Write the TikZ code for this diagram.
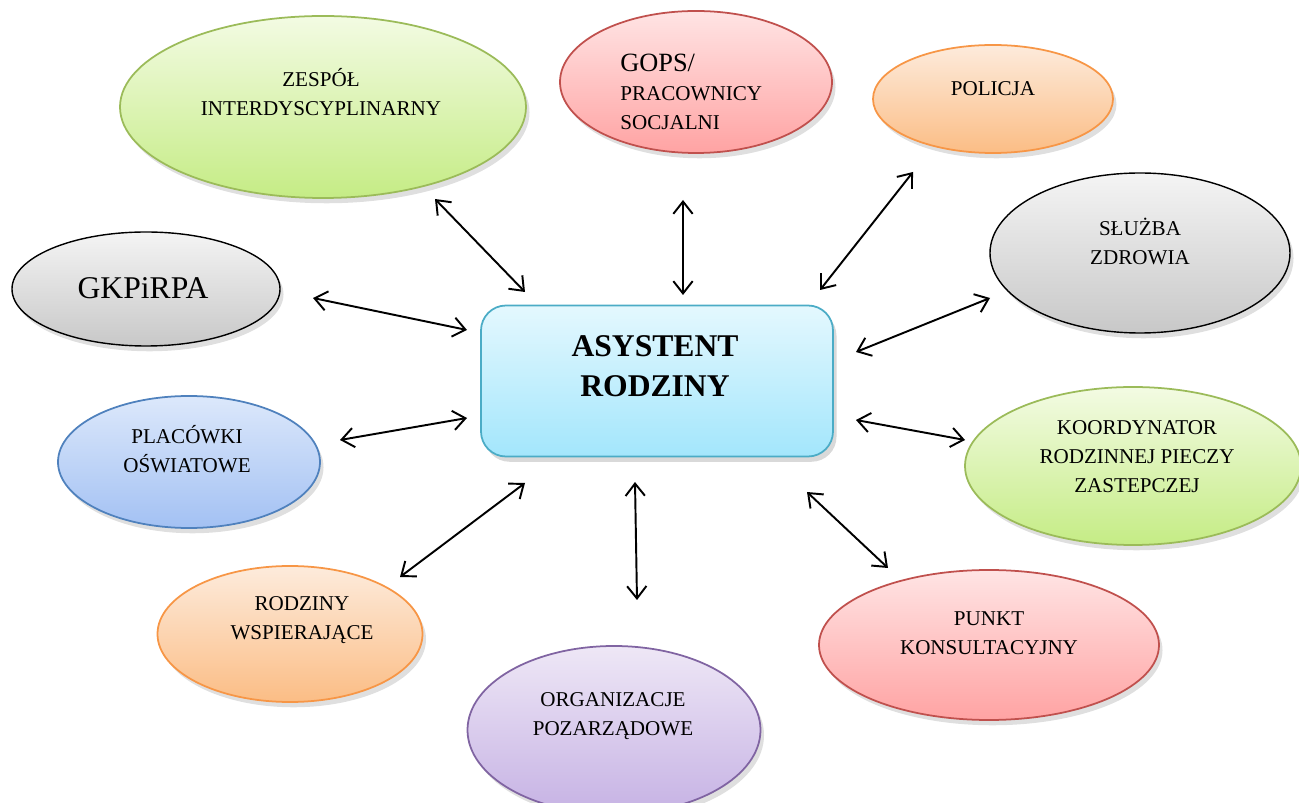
\documentclass[tikz,border=0pt]{standalone}
\usepackage{fontspec}
\setmainfont{Liberation Serif}
\usetikzlibrary{arrows.meta,shapes.geometric,shadows}

\definecolor{grnT}{HTML}{F3FBE3}
\definecolor{grnB}{HTML}{C5EC85}
\definecolor{grnD}{HTML}{9BBB59}
\definecolor{redT}{HTML}{FFE4E4}
\definecolor{redB}{HTML}{FFA3A3}
\definecolor{redD}{HTML}{C0504D}
\definecolor{orgT}{HTML}{FDEBDC}
\definecolor{orgB}{HTML}{FBBD85}
\definecolor{orgD}{HTML}{F79646}
\definecolor{gryT}{HTML}{F4F4F4}
\definecolor{gryB}{HTML}{C8C8C8}
\definecolor{bluT}{HTML}{DCE8FB}
\definecolor{bluB}{HTML}{A3C1F3}
\definecolor{bluD}{HTML}{4F81BD}
\definecolor{purT}{HTML}{EEE7F6}
\definecolor{purB}{HTML}{C6B2E4}
\definecolor{purD}{HTML}{8064A2}
\definecolor{cyaT}{HTML}{E4F8FE}
\definecolor{cyaB}{HTML}{A3E6FC}
\definecolor{cyaD}{HTML}{4BACC6}

\begin{document}
\begin{tikzpicture}[x=0.02cm, y=-0.02cm,
  sz/.style 2 args={minimum width=#1*0.02cm, minimum height=#2*0.02cm},
  ell/.style={ellipse, line width=1pt, inner sep=0pt,
    drop shadow={opacity=0.25, shadow xshift=2pt, shadow yshift=-3pt}},
  ellgrn/.style={ell, draw=grnD, top color=grnT, bottom color=grnB},
  ellred/.style={ell, draw=redD, top color=redT, bottom color=redB},
  ellorg/.style={ell, draw=orgD, top color=orgT, bottom color=orgB},
  ellgry/.style={ell, draw=black, line width=0.8pt, top color=gryT, bottom color=gryB},
  ellblu/.style={ell, draw=bluD, top color=bluT, bottom color=bluB},
  ellpur/.style={ell, draw=purD, top color=purT, bottom color=purB},
  lbl/.style={align=center, inner sep=0pt, font=\fontsize{12}{16.5}\selectfont},
  link/.style={{Straight Barb[length=7pt,width=11pt]}-{Straight Barb[length=7pt,width=11pt]}, line width=1.1pt}]

	\useasboundingbox (0,0) rectangle (1299,803);

	% centre
	\node[draw=cyaD, line width=1pt, rounded corners=0.5cm, top color=cyaT, bottom color=cyaB,
	  sz={352}{151}, drop shadow={opacity=0.3, shadow xshift=2pt, shadow yshift=-3pt}] (ar) at (657,381) {};
	\node[align=center, inner sep=0pt, font=\bfseries\fontsize{18}{22.8}\selectfont] (arT) at (655,366) {ASYSTENT\\RODZINY};

	% ellipses
	\node[ellgrn, sz={406}{182}] (zi) at (323,107) {};
	\node[ellred, sz={272}{142}] (gops) at (696,82) {};
	\node[ellorg, sz={240}{108}] (pol) at (993,99) {};
	\node[ellgry, sz={300}{160}] (sz) at (1140,253) {};
	\node[ellgry, sz={268}{114}] (gk) at (146,289) {};
	\node[ellblu, sz={262}{132}] (po) at (189,462) {};
	\node[ellgrn, sz={336}{158}] (kr) at (1133,466) {};
	\node[ellorg, sz={265}{136}] (rw) at (290,634) {};
	\node[ellpur, sz={293}{168}] (op) at (614,730) {};
	\node[ellred, sz={340}{150}] (pk) at (989,645) {};

	% labels
	\node[lbl] (ziT) at (321,92) {ZESPÓŁ\\INTERDYSCYPLINARNY};
	\node[lbl, align=left, anchor=west] (gopsT) at (620,92) {{\fontsize{15}{18}\selectfont GOPS/}\\PRACOWNICY\\SOCJALNI};
	\node[lbl] (polT) at (993,89) {POLICJA};
	\node[lbl] (szT) at (1140,241) {SŁUŻBA\\ZDROWIA};
	\node[lbl, font=\fontsize{18}{22}\selectfont] (gkT) at (143,288) {GKPiRPA};
	\node[lbl] (poT) at (187,449) {PLACÓWKI\\OŚWIATOWE};
	\node[lbl] (krT) at (1137,457) {KOORDYNATOR\\RODZINNEJ PIECZY\\ZASTEPCZEJ};
	\node[lbl] (rwT) at (302,620) {RODZINY\\WSPIERAJĄCE};
	\node[lbl] (opT) at (613,716) {ORGANIZACJE\\POZARZĄDOWE};
	\node[lbl] (pkT) at (989,633) {PUNKT\\KONSULTACYJNY};

	% arrow ends
	\coordinate (zi1) at (435,199);  \coordinate (zi2) at (525,292);
	\coordinate (gops1) at (683,200); \coordinate (gops2) at (683,295);
	\coordinate (pol1) at (913,172); \coordinate (pol2) at (820,290);
	\coordinate (sz1) at (990,298);  \coordinate (sz2) at (856,352);
	\coordinate (gk1) at (313,298);  \coordinate (gk2) at (467,330);
	\coordinate (po1) at (340,440);  \coordinate (po2) at (467,418);
	\coordinate (kr1) at (965,440);  \coordinate (kr2) at (856,420);
	\coordinate (rw1) at (400,577);  \coordinate (rw2) at (525,483);
	\coordinate (op1) at (637,600);  \coordinate (op2) at (635,482);
	\coordinate (pk1) at (888,568);  \coordinate (pk2) at (807,492);

	\draw[link] (zi1) -- (zi2);
	\draw[link] (gops1) -- (gops2);
	\draw[link] (pol1) -- (pol2);
	\draw[link] (sz1) -- (sz2);
	\draw[link] (gk1) -- (gk2);
	\draw[link] (po1) -- (po2);
	\draw[link] (kr1) -- (kr2);
	\draw[link] (rw1) -- (rw2);
	\draw[link] (op1) -- (op2);
	\draw[link] (pk1) -- (pk2);
\end{tikzpicture}
\end{document}
